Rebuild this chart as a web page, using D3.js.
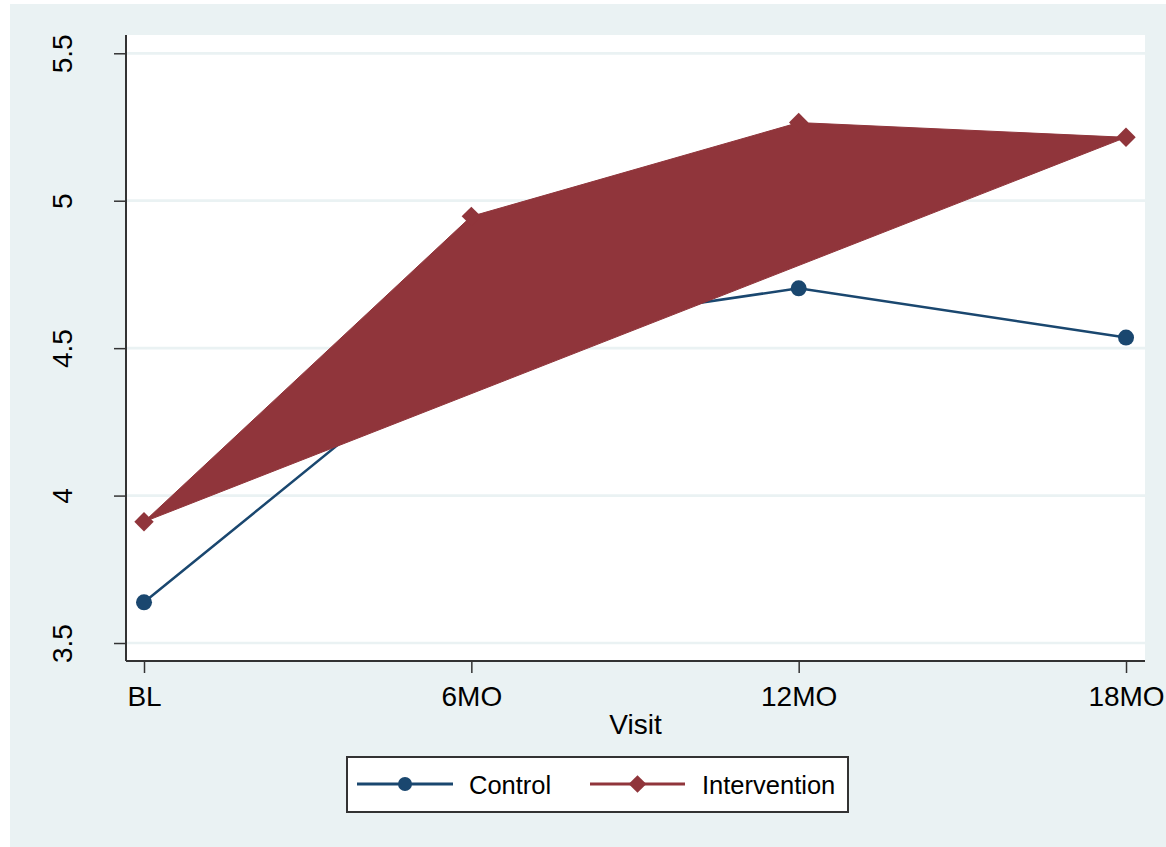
<!DOCTYPE html>
<html>
<head>
<meta charset="utf-8">
<script src="https://cdn.jsdelivr.net/npm/d3@7"></script>
<style>
  body { margin: 0; background: #fff; }
  svg { display: block; font-family: "Liberation Sans", Arial, sans-serif; }
</style>
</head>
<body>
<div id="chart"></div>
<script>
// data
const visits = ['BL', '6MO', '12MO', '18MO'];
const control = [3.638, 4.54, 4.703, 4.536];
const intervention = [3.911, 4.947, 5.265, 5.215];
const yTicks = [3.5, 4, 4.5, 5, 5.5];
const seriesNames = ['Control', 'Intervention'];

const W = 1166, H = 847;
const plot = { left: 126, right: 1145, top: 35, bottom: 661 };
const navy = '#1a476f', maroon = '#90353b';
const bg = '#eaf2f3';

const svg = d3.select('#chart').append('svg')
  .attr('width', W)
  .attr('height', H);

// graph region background
svg.append('rect')
  .attr('x', 10).attr('y', 4)
  .attr('width', W - 10).attr('height', H - 4)
  .attr('fill', bg);

// plot region
svg.append('rect')
  .attr('x', plot.left).attr('y', plot.top)
  .attr('width', plot.right - plot.left)
  .attr('height', plot.bottom - plot.top)
  .attr('fill', '#fff');

const x = d3.scaleLinear()
  .domain([-0.055, 3.058])
  .range([plot.left, plot.right]);
const y = d3.scaleLinear()
  .domain([3.439, 5.562])
  .range([plot.bottom, plot.top]);

// gridlines
svg.append('g')
  .selectAll('line')
  .data(yTicks)
  .join('line')
  .attr('x1', plot.left).attr('x2', plot.right)
  .attr('y1', d => y(d)).attr('y2', d => y(d))
  .attr('stroke', bg)
  .attr('stroke-width', 2.7);

// axes
const yAxis = svg.append('g')
  .attr('transform', `translate(${plot.left},0)`)
  .call(d3.axisLeft(y).tickValues(yTicks).tickSize(12).tickPadding(0).tickFormat(d3.format('')));
yAxis.select('.domain')
  .attr('d', `M0,${plot.top}V${plot.bottom}`)
  .attr('stroke', '#333').attr('stroke-width', 2);
yAxis.selectAll('.tick line').attr('stroke', '#333').attr('stroke-width', 1.5);
yAxis.selectAll('.tick text')
  .attr('x', null).attr('dy', null)
  .attr('transform', 'translate(-54,0) rotate(-90)')
  .attr('text-anchor', 'middle')
  .attr('font-size', 28)
  .attr('font-family', '"Liberation Sans", Arial, sans-serif')
  .attr('fill', '#000');

const xAxis = svg.append('g')
  .attr('transform', `translate(0,${plot.bottom})`)
  .call(d3.axisBottom(x).tickValues(d3.range(visits.length)).tickSize(12)
    .tickFormat(i => visits[i]));
xAxis.select('.domain')
  .attr('d', `M${plot.left},0H${plot.right}`)
  .attr('stroke', '#333').attr('stroke-width', 2);
xAxis.selectAll('.tick line').attr('stroke', '#333').attr('stroke-width', 1.5);
xAxis.selectAll('.tick text')
  .attr('y', 45).attr('dy', null)
  .attr('font-size', 28)
  .attr('font-family', '"Liberation Sans", Arial, sans-serif')
  .attr('fill', '#000');

svg.append('text')
  .attr('x', (plot.left + plot.right) / 2)
  .attr('y', 734)
  .attr('text-anchor', 'middle')
  .attr('font-size', 28)
  .text('Visit');

// control line
const line = d3.line()
  .x((d, i) => x(i))
  .y(d => y(d));

svg.append('path')
  .datum(control)
  .attr('d', line)
  .attr('fill', 'none')
  .attr('stroke', navy)
  .attr('stroke-width', 2.5);

svg.append('g')
  .selectAll('circle')
  .data(control)
  .join('circle')
  .attr('cx', (d, i) => x(i))
  .attr('cy', d => y(d))
  .attr('r', 8)
  .attr('fill', navy);

// intervention line, drawn as a closed filled shape
svg.append('path')
  .datum(intervention)
  .attr('d', d => line(d) + 'Z')
  .attr('fill', maroon)
  .attr('stroke', maroon)
  .attr('stroke-width', 1);

const diamond = d3.symbol().type(d3.symbolDiamond2).size(240);
svg.append('g')
  .selectAll('path')
  .data(intervention)
  .join('path')
  .attr('d', diamond)
  .attr('transform', (d, i) => `translate(${x(i)},${y(d)})`)
  .attr('fill', maroon);

// legend
const legend = svg.append('g');
legend.append('rect')
  .attr('x', 347).attr('y', 757)
  .attr('width', 501).attr('height', 55)
  .attr('fill', '#fff')
  .attr('stroke', '#333')
  .attr('stroke-width', 2);

const legItems = [
  { name: seriesNames[0], color: navy, x0: 357, x1: 453, tx: 469, sym: 'circle' },
  { name: seriesNames[1], color: maroon, x0: 590, x1: 685, tx: 702, sym: 'diamond' }
];
const ly = 784;
legItems.forEach(it => {
  legend.append('line')
    .attr('x1', it.x0).attr('x2', it.x1)
    .attr('y1', ly).attr('y2', ly)
    .attr('stroke', it.color)
    .attr('stroke-width', 3);
  if (it.sym === 'circle') {
    legend.append('circle')
      .attr('cx', (it.x0 + it.x1) / 2).attr('cy', ly)
      .attr('r', 7).attr('fill', it.color);
  } else {
    legend.append('path')
      .attr('d', d3.symbol().type(d3.symbolDiamond2).size(200))
      .attr('transform', `translate(${(it.x0 + it.x1) / 2},${ly})`)
      .attr('fill', it.color);
  }
  legend.append('text')
    .attr('x', it.tx).attr('y', ly + 9.5)
    .attr('font-size', 25.5)
    .attr('fill', '#000')
    .text(it.name);
});
</script>
</body>
</html>
